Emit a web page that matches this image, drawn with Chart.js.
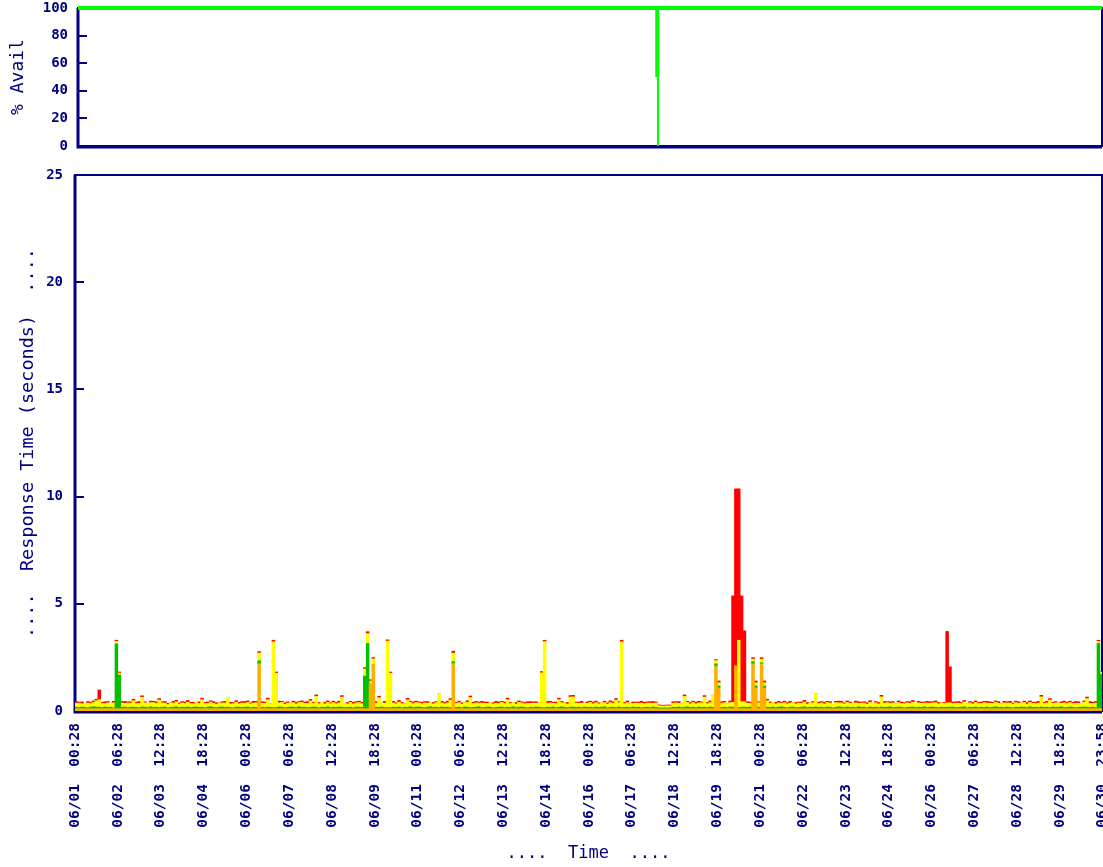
<!DOCTYPE html>
<html><head><meta charset="utf-8">
<script src="https://cdn.jsdelivr.net/npm/chart.js@4/dist/chart.umd.min.js"></script>
<style>
html,body{margin:0;padding:0;background:#fff;overflow:hidden;width:1103px;height:867px}
#top{position:absolute;left:0;top:0;width:1103px;height:150px}
#bot{position:absolute;left:0;top:150px;width:1103px;height:717px}
</style></head><body>
<canvas id="top" width="1103" height="150"></canvas>
<canvas id="bot" width="1103" height="717"></canvas>
<script>
const NAVY = '#000080';
const MONO = '"DejaVu Sans Mono", "Liberation Mono", monospace';

// x axis: hours since 06/01 00:28
const tickHours = [0,30,60,90,120,150,180,210,240,270,300,330,360,390,420,450,480,510,540,570,600,630,660,690,719.5];
const tickLabels = ["06/01  00:28","06/02  06:28","06/03  12:28","06/04  18:28","06/06  00:28","06/07  06:28",
  "06/08  12:28","06/09  18:28","06/11  00:28","06/12  06:28","06/13  12:28","06/14  18:28","06/16  00:28",
  "06/17  06:28","06/18  12:28","06/19  18:28","06/21  00:28","06/22  06:28","06/23  12:28","06/24  18:28",
  "06/26  00:28","06/27  06:28","06/28  12:28","06/29  18:28","06/30  23:58"];

// availability (%)
const availHours = [0, 407, 407, 407, 719.5];
const availPct   = [100, 100, 50, 100, 100];
const dropHours  = [407.5, 407.5];
const dropPct    = [50, 0];

// response time samples: 2-hour bins centred at hour 1,3,5,...
const binHours = [];
for (let i = 0; i < 360; i++) binHours.push(2 * i + 1);

const orangeSec = [
.11,.11,.11,.11,.11,.11,.11,.11,.11,.11,.11,.11,.11,.11,.11,.11,.11,.11,.11,.11,
.11,.11,.11,.11,.11,.11,.11,.11,.11,.11,.11,.11,.11,.11,.11,.11,.11,.11,.11,.11,
.11,.11,.11,.11,.11,.11,.11,.11,.11,.11,.11,.11,.11,.11,.11,.11,.11,.11,.11,.11,
.11,.11,.11,.11,2.21,.11,.11,.11,.11,.11,.11,.11,.11,.11,.11,.11,.11,.11,.11,.11,
.11,.11,.11,.11,.11,.11,.11,.11,.11,.11,.11,.11,.11,.11,.11,.11,.11,.11,.11,.11,
.11,.11,.11,1.25,2.18,.11,.11,.11,.11,.11,.11,.11,.11,.11,.11,.11,.11,.11,.11,.11,
.11,.11,.11,.11,.11,.11,.11,.11,.11,.11,.11,.11,2.21,.11,.11,.11,.11,.11,.11,.11,
.11,.11,.11,.11,.11,.11,.11,.11,.11,.11,.11,.11,.11,.11,.11,.11,.11,.11,.11,.11,
.11,.11,.11,.11,.11,.11,.11,.11,.11,.11,.11,.11,.11,.11,.11,.11,.11,.11,.11,.11,
.11,.11,.11,.11,.11,.11,.11,.11,.11,.11,.11,.11,.11,.11,.11,.11,.11,.11,.11,.11,
.11,.11,.11,.11,.1,.1,.1,.1,.1,.11,.11,.11,.11,.11,.11,.11,.11,.11,.11,.11,
.11,.11,.11,.11,2.1,1.07,.11,.11,.11,.11,.11,2.1,.11,.11,.11,.11,.11,2.2,1.07,.11,
2.2,1.07,.11,.11,.11,.11,.11,.11,.11,.11,.11,.11,.11,.11,.11,.11,.11,.11,.11,.11,
.11,.11,.11,.11,.11,.11,.11,.11,.11,.11,.11,.11,.11,.11,.11,.11,.11,.11,.11,.11,
.11,.11,.11,.11,.11,.11,.11,.11,.11,.11,.11,.11,.11,.11,.11,.11,.11,.11,.11,.11,
.11,.11,.11,.11,.11,.11,.11,.11,.11,.11,.11,.11,.11,.11,.11,.11,.11,.11,.11,.11,
.11,.11,.11,.11,.11,.11,.11,.11,.11,.11,.11,.11,.11,.11,.11,.11,.11,.11,.11,.11,
.11,.11,.11,.11,.11,.11,.11,.11,.11,.11,.11,.11,.11,.11,.11,.11,.11,.11,.11,.11];

const greenSec = [
.07,.05,.08,.06,.04,.07,.09,.07,.07,.05,.08,.06,.07,.04,3.02,1.57,.06,.08,.05,.07,
.07,.06,.04,.08,.07,.05,.09,.06,.07,.05,.07,.08,.04,.06,.07,.09,.05,.07,.06,.08,
.05,.07,.08,.06,.07,.04,.07,.09,.06,.05,.07,.08,.06,.07,.05,.04,.08,.07,.06,.07,
.08,.05,.07,.06,.13,.07,.05,.07,.06,.05,.05,.08,.07,.04,.06,.08,.07,.05,.09,.06,
.07,.05,.06,.08,.07,.04,.07,.06,.09,.05,.07,.06,.08,.07,.05,.06,.07,.04,.08,.07,
.06,1.52,3.04,0,0,.07,.06,.08,.05,.05,.05,.07,.06,.08,.04,.07,.06,.09,.05,.07,
.08,.06,.05,.07,.09,.06,.07,.05,.08,.06,.07,.05,.09,.06,.07,.04,.08,.07,.05,.06,
.07,.09,.05,.06,.08,.07,.04,.06,.07,.08,.05,.07,.06,.09,.05,.07,.08,.06,.04,.07,
.06,.08,.07,.05,.05,.07,.06,.08,.04,.07,.09,.06,.05,.07,.08,.06,.07,.05,.08,.06,
.07,.05,.08,.06,.07,.09,.04,.06,.07,.05,.08,.05,.06,.07,.05,.08,.06,.07,.04,.06,
.07,.05,.08,.06,.05,.04,.05,.04,.05,.07,.06,.08,.05,.07,.09,.06,.07,.05,.08,.06,
.07,.05,.08,.06,.1,.1,.06,.07,.05,.08,.07,0,.05,.07,.07,.06,.08,.1,.1,.07,
.05,.1,.07,.06,.08,.05,.07,.09,.06,.04,.07,.08,.05,.06,.07,.09,.05,.07,.06,.08,
.06,.07,.05,.08,.07,.04,.06,.09,.07,.05,.08,.06,.07,.05,.09,.06,.07,.04,.08,.06,
.07,.05,.08,.06,.07,.09,.05,.06,.08,.07,.04,.06,.07,.08,.05,.07,.06,.09,.05,.07,
.08,.06,.05,.07,.06,.07,.07,.08,.05,.06,.07,.09,.04,.07,.06,.08,.05,.07,.06,.08,
.05,.07,.09,.06,.07,.05,.08,.06,.04,.07,.06,.08,.07,.05,.09,.06,.07,.05,.08,.06,
.07,.05,.08,.06,.07,.09,.05,.06,.08,.07,.04,.06,.07,.08,.07,.06,.07,.05,3.04,1.6];

const yellowSec = [
.18,.21,.15,.19,.22,.17,.2,.30,.35,.19,.16,.21,.18,.23,.12,.09,.2,.17,.22,.19,
.30,.18,.21,.45,.2,.16,.19,.22,.17,.35,.2,.18,.15,.21,.19,.23,.17,.2,.18,.22,
.19,.16,.21,.18,.35,.2,.17,.22,.19,.15,.2,.18,.21,.42,.17,.19,.22,.16,.2,.18,
.21,.17,.19,.22,.36,.18,.2,.35,.17,3.07,1.6,.19,.22,.16,.2,.18,.21,.17,.19,.23,
.18,.2,.30,.17,.50,.19,.22,.16,.2,.18,.21,.17,.19,.47,.2,.16,.22,.18,.19,.21,
.17,.33,.46,.15,.25,.19,.45,.18,.21,3.1,1.6,.2,.17,.22,.19,.16,.35,.2,.18,.21,
.19,.17,.22,.18,.2,.16,.21,.63,.19,.17,.2,.35,.4,.18,.21,.17,.19,.22,.47,.18,
.2,.17,.21,.19,.16,.22,.18,.2,.17,.21,.19,.35,.18,.2,.16,.22,.19,.17,.21,.18,
.2,.17,.19,1.62,3.08,.18,.21,.17,.2,.35,.19,.22,.16,.47,.47,.2,.18,.21,.17,.19,
.22,.18,.2,.16,.21,.19,.17,.22,.18,.35,.2,3.07,.17,.21,.19,.16,.2,.18,.22,.17,
.19,.21,.17,.2,.1,.09,.08,.1,.09,.18,.21,.17,.19,.50,.2,.16,.22,.18,.19,.21,
.47,.18,.2,.57,.15,.15,.19,.21,.17,.2,.22,0,3.14,.25,.25,.19,.17,.12,.15,.2,
.17,.15,.30,.19,.21,.17,.2,.16,.22,.18,.19,.21,.17,.2,.18,.22,.16,.19,.21,.63,
.18,.2,.17,.21,.19,.16,.22,.18,.2,.17,.21,.19,.18,.22,.16,.2,.19,.17,.21,.18,
.2,.17,.47,.19,.21,.16,.22,.18,.2,.17,.19,.21,.18,.22,.16,.2,.19,.17,.21,.18,
.19,.22,.17,.2,.18,.2,.2,.16,.21,.19,.17,.22,.18,.2,.16,.21,.19,.17,.22,.18,
.2,.17,.21,.19,.16,.22,.18,.2,.17,.21,.19,.18,.22,.16,.2,.19,.17,.21,.47,.18,
.2,.35,.17,.21,.19,.16,.22,.18,.2,.17,.21,.19,.18,.22,.40,.19,.17,.21,.1,.1];

const redSec = [
.07,.05,.08,0,.07,.06,.07,.07,.45,.05,.08,.06,0,.07,.05,.05,.07,.08,.05,.06,
.07,.06,.08,.07,.05,0,.07,.06,.08,.07,.05,.07,.06,0,.08,.07,.05,.06,.07,.08,
.06,.07,0,.08,.07,.05,.07,.06,.08,.07,0,.06,.07,0,.08,.05,.07,.06,.07,.08,
.07,.05,.08,.06,.07,.07,.06,.07,0,.07,.06,.08,.05,.07,.06,0,.07,.08,.05,.07,
.06,.08,.07,.05,.07,.06,0,.08,.07,.05,.07,.06,.08,.07,0,.07,.05,.08,.06,.07,
.07,.06,.09,.06,.06,.07,.07,0,.08,.06,.06,.07,.05,.08,.06,0,.07,.06,.08,.07,
.05,.07,.06,.08,0,.07,.05,0,.07,.06,.08,.07,.09,.05,.07,.06,0,.08,.07,.06,
.07,.05,.08,.06,.07,0,.06,.08,.07,.05,.07,.07,.06,0,.08,.07,.05,.06,.07,.08,
.06,.07,0,.06,.06,.08,.07,.05,.07,.07,.06,0,.08,.07,.07,.05,.06,.08,0,.07,
.06,.08,.07,.05,0,.07,.06,.08,.07,.07,.05,.07,.06,.08,0,.07,.05,.06,.08,.07,
.06,.07,.08,.05,.04,.04,.04,.04,.04,.07,.06,.08,0,.07,.05,.07,.06,.08,.07,.05,
.07,.06,.08,0,.05,.08,.07,.06,0,.08,4.97,8.26,7.06,4.94,3.31,.07,.06,.07,.08,.05,
.07,.08,.07,.06,0,.08,.07,.05,.07,.06,.08,0,.07,.05,.06,.08,.07,0,.06,0,
.07,.06,.08,.05,.07,0,.06,.08,.07,.05,.07,.06,0,.08,.07,.05,.06,.07,.08,0,
.06,.07,.07,.08,.05,.07,.06,0,.08,.07,.05,.06,.07,.08,0,.07,.06,.05,.08,.07,
.06,.08,.07,0,.05,3.33,1.68,.07,.06,.08,.05,.07,0,.06,.08,.07,.05,.07,.06,.08,
.07,.05,.06,.08,0,.07,.06,.08,.05,.07,.07,0,.06,.08,.07,.05,.06,.08,.07,.06,
.08,.07,.05,.06,0,.07,.08,.06,.07,.05,.08,.07,0,.06,.07,.08,.06,.07,.05,.03];

const COLORS = { orange: '#FFAE00', green: '#00C000', yellow: '#FFFF00', red: '#FF0000', avail: '#00FF00' };

function xyPairs(xs, ys) { return xs.map((x, i) => ({ x: x, y: ys[i] })); }

const framePlugin = {
  id: 'frame',
  beforeDatasetsDraw(chart) {
    const { ctx, chartArea: a, scales } = chart;
    const y = scales.y;
    ctx.save();
    ctx.strokeStyle = NAVY;
    ctx.lineWidth = 2;
    ctx.strokeRect(a.left, a.top, a.right - a.left, a.bottom - a.top);
    ctx.lineWidth = 3;
    ctx.beginPath();
    ctx.moveTo(a.left, a.top); ctx.lineTo(a.left, a.bottom + 1); ctx.lineTo(a.right, a.bottom + 1);
    ctx.stroke();
    ctx.lineWidth = 2;
    y.ticks.forEach(t => {
      const py = Math.round(y.getPixelForValue(t.value));
      ctx.beginPath();
      ctx.moveTo(a.left, py); ctx.lineTo(a.left + 9, py);
      ctx.stroke();
    });
    ctx.restore();
  }
};

const tickFont = { family: MONO, size: 14, weight: 'bold' };

new Chart(document.getElementById('top'), {
  type: 'line',
  data: {
    datasets: [
      { data: xyPairs(availHours, availPct), borderColor: COLORS.avail, borderWidth: 4, pointRadius: 0, tension: 0, fill: false, clip: 4 },
      { data: xyPairs(dropHours, dropPct), borderColor: COLORS.avail, borderWidth: 2, pointRadius: 0, tension: 0, fill: false, clip: 4 }
    ]
  },
  options: {
    responsive: false, animation: false, devicePixelRatio: 1,
    layout: { padding: { top: 8, right: 1, bottom: 4, left: 0 } },
    plugins: { legend: { display: false }, tooltip: { enabled: false } },
    scales: {
      x: { type: 'linear', min: 0, max: 719.5, display: false },
      y: {
        min: 0, max: 100,
        ticks: { stepSize: 20, color: NAVY, font: tickFont, padding: 10 },
        grid: { display: false, drawTicks: false }, border: { display: false },
        title: { display: true, text: '% Avail', color: NAVY, font: { family: MONO, size: 18 }, padding: { top: 8, bottom: 0 } },
        afterFit(s) { s.width = 78; s.paddingTop = 0; s.paddingBottom = 0; }
      }
    }
  },
  plugins: [framePlugin]
});

new Chart(document.getElementById('bot'), {
  type: 'bar',
  data: {
    labels: binHours,
    datasets: [
      { data: orangeSec, backgroundColor: COLORS.orange },
      { data: greenSec, backgroundColor: COLORS.green },
      { data: yellowSec, backgroundColor: COLORS.yellow },
      { data: redSec, backgroundColor: COLORS.red }
    ]
  },
  options: {
    responsive: false, animation: false, devicePixelRatio: 1,
    layout: { padding: { top: 25, right: 1, bottom: 0, left: 0 } },
    datasets: { bar: { barPercentage: 1, categoryPercentage: 1, borderWidth: 0 } },
    plugins: { legend: { display: false }, tooltip: { enabled: false } },
    scales: {
      x: {
        type: 'linear', min: 0, max: 719.5, stacked: true, offset: false,
        grid: { display: false, drawTicks: false }, border: { display: false },
        afterBuildTicks(s) { s.ticks = tickHours.map(v => ({ value: v })); },
        afterFit(s) { s.height = 156; s.paddingLeft = 0; s.paddingRight = 0; },
        ticks: { autoSkip: false, minRotation: 90, maxRotation: 90, padding: 12, color: NAVY,
                 font: { family: MONO, size: 14.5, weight: 'bold' },
                 callback: (v, i) => tickLabels[i] },
        title: { display: true, text: '....  Time  ....', color: NAVY, font: { family: MONO, size: 17 }, padding: { top: 0, bottom: 3 } }
      },
      y: {
        stacked: true, min: 0, max: 25,
        ticks: { stepSize: 5, color: NAVY, font: tickFont, padding: 12 },
        grid: { display: false, drawTicks: false }, border: { display: false },
        title: { display: true, text: '....  Response Time (seconds)  ....', color: NAVY, font: { family: MONO, size: 18.5 }, padding: { top: 17, bottom: 0 } },
        afterFit(s) { s.width = 75; }
      }
    }
  },
  plugins: [framePlugin]
});
</script>
</body></html>
